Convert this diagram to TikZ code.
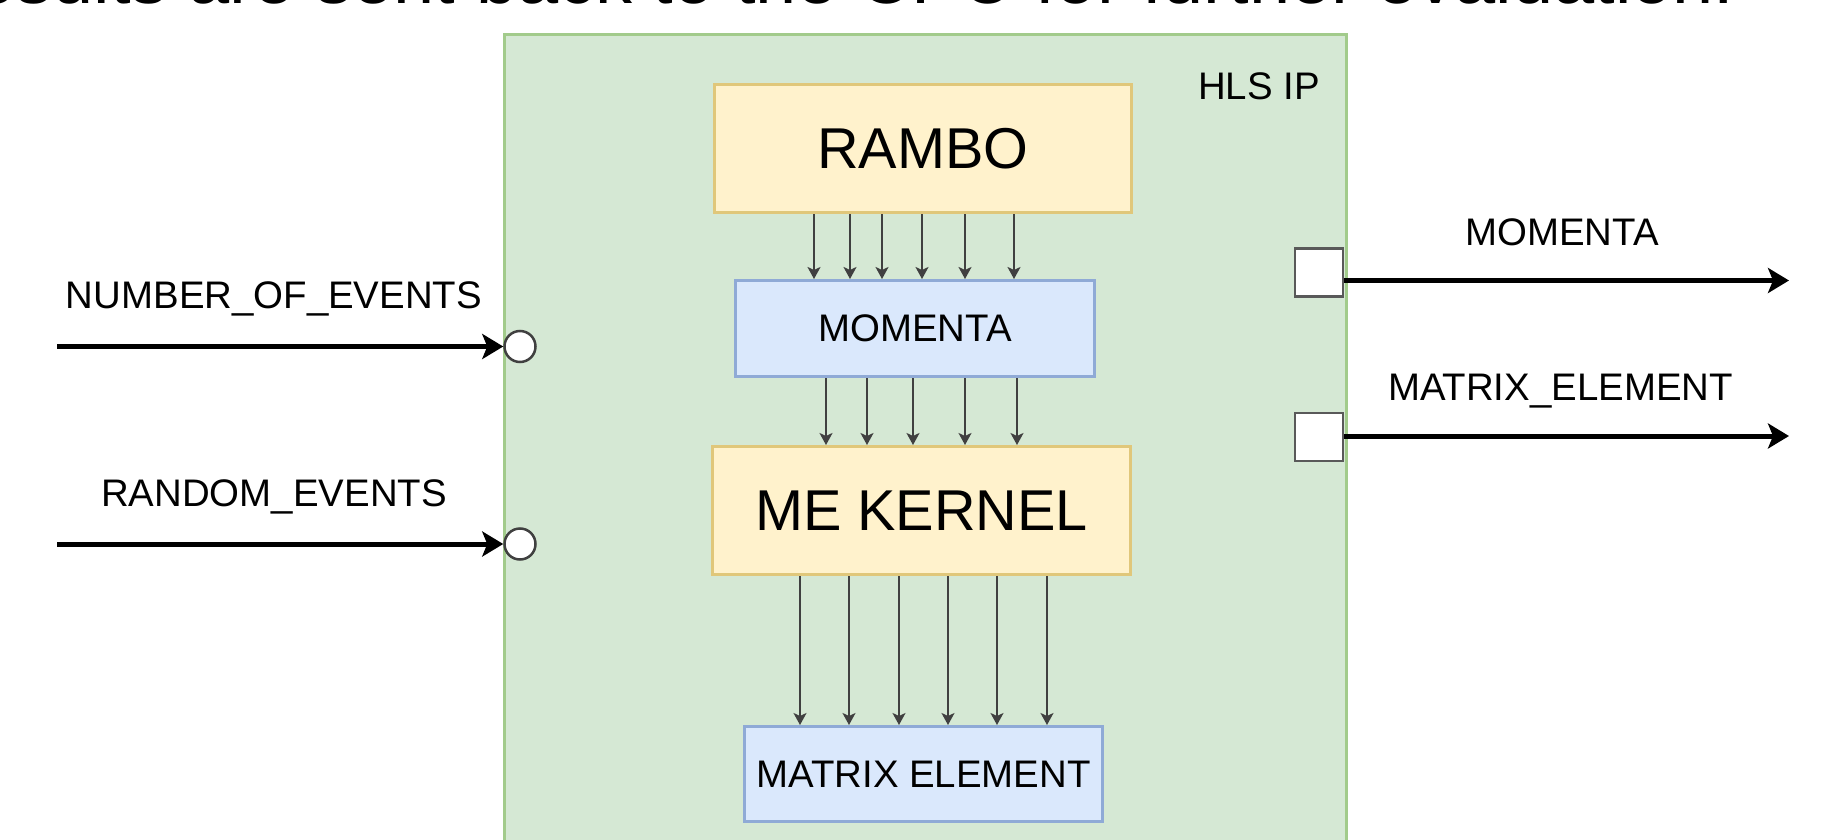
\documentclass[tikz,border=0pt]{standalone}
\usepackage{fontspec}
\setmainfont{Liberation Sans}
\usetikzlibrary{arrows.meta}
\definecolor{hlsfill}{HTML}{D5E8D4}
\definecolor{hlsline}{HTML}{A2CB8B}
\definecolor{kfill}{HTML}{FFF2CC}
\definecolor{kline}{HTML}{E0C77A}
\definecolor{dfill}{HTML}{DAE8FC}
\definecolor{dline}{HTML}{8FAAD6}
\newcommand\smallfont{\fontsize{38.4}{46}\selectfont}
\newcommand\bigfont{\fontsize{57.6}{69}\selectfont}
\tikzset{
    hlsbox/.style={draw=hlsline,fill=hlsfill,line width=3pt},
    kernel/.style={draw=kline,fill=kfill,line width=3pt,font=\bigfont},
    datab/.style={draw=dline,fill=dfill,line width=3pt,font=\smallfont},
    lbl/.style={font=\smallfont,inner sep=0pt,anchor=base},
    inport/.style={circle,draw=black!75,fill=white,line width=2.5pt,minimum size=31pt,inner sep=0pt},
    outport/.style={draw=black!65,fill=white,line width=2.5pt,minimum size=48pt,inner sep=0pt},
    flow/.style={draw=black!75,line width=2pt,-{Stealth[length=12pt,width=13pt,inset=3pt]}},
    sig/.style={draw=black,line width=5pt,-{Stealth[length=21pt,width=25pt,inset=5pt]}},
}
\begin{document}
\begin{tikzpicture}[x=1pt,y=-1pt]
\useasboundingbox (0,0) rectangle (1826,840);
\clip (0,0) rectangle (1826,840);
\node[font=\fontsize{74}{80}\selectfont,inner sep=0pt,anchor=base east] (note) at (1735,4)
    {results are sent back to the CPU for further evaluation.};
\node[hlsbox,anchor=north west,minimum width=842pt,minimum height=840pt] (hls) at (503,33) {};
\node[lbl] (hlsname) at (1259,100) {HLS IP};
\node[kernel,minimum width=417pt,minimum height=128pt] (rambo) at (923,148.5) {RAMBO};
\node[datab,minimum width=359pt,minimum height=96pt] (mom) at (915,328.5) {MOMENTA};
\node[kernel,minimum width=418pt,minimum height=128pt] (mek) at (921.5,510.5) {ME KERNEL};
\node[datab,minimum width=358pt,minimum height=95pt] (mel) at (923.5,774) {MATRIX ELEMENT};
\node[inport] (nev) at (520,346.5) {};
\node[inport] (rev) at (520,544) {};
\node[outport] (pmom) at (1319,272.5) {};
\node[outport] (pme) at (1319,437) {};
\coordinate (nevsrc) at (57,346.5);
\coordinate (revsrc) at (57,544);
\coordinate (momdst) at (1789,280.5);
\coordinate (medst) at (1789,436);
\node[lbl] (nevname) at (274,308) {NUMBER\_OF\_EVENTS};
\node[lbl] (revname) at (274,506.5) {RANDOM\_EVENTS};
\node[lbl] (momname) at (1562,245) {MOMENTA};
\node[lbl] (mename) at (1560.5,400) {MATRIX\_ELEMENT};
\draw[sig] (nevsrc) -- (nev.west);
\draw[sig] (revsrc) -- (rev.west);
\draw[sig] (pmom.east |- momdst) -- (momdst);
\draw[sig] (pme.east |- medst) -- (medst);
\foreach \x in {814,850,882,922,965,1014}{
    \coordinate (a\x) at (\x,0);
    \draw[flow] (rambo.south -| a\x) -- (mom.north -| a\x);
}
\foreach \x in {826,867,913,965,1017}{
    \coordinate (b\x) at (\x,0);
    \draw[flow] (mom.south -| b\x) -- (mek.north -| b\x);
}
\foreach \x in {800,849,899,948,997,1047}{
    \coordinate (c\x) at (\x,0);
    \draw[flow] (mek.south -| c\x) -- (mel.north -| c\x);
}
\end{tikzpicture}
\end{document}
